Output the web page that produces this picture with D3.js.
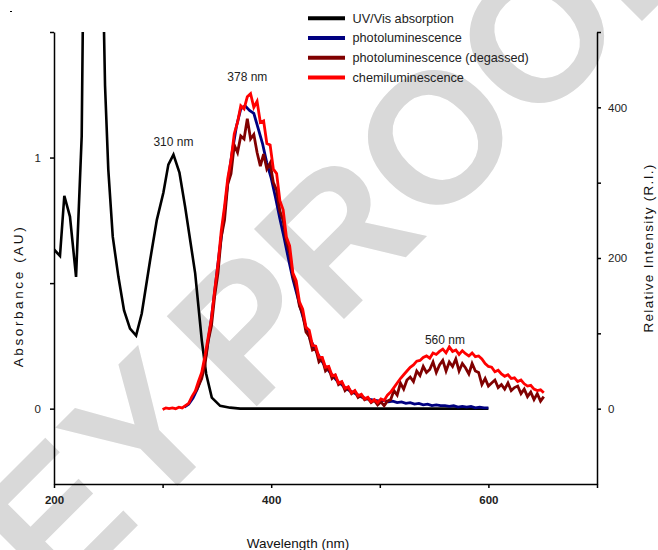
<!DOCTYPE html>
<html>
<head>
<meta charset="utf-8">
<script src="https://cdn.jsdelivr.net/npm/d3@7"></script>
<style>
  html, body { margin: 0; padding: 0; background: #fff; }
  svg { display: block; font-family: "Liberation Sans", Arial, sans-serif; }
</style>
</head>
<body>
<svg id="chart" width="658" height="550"></svg>
<script>
// ---------- DATA ----------
const seriesNames = ["UV/Vis absorption", "photoluminescence", "photoluminescence (degassed)", "chemiluminescence"];
const seriesColors = ["#000000", "#000080", "#800000", "#ff0000"];

const xTicks = [200, 300, 400, 500, 600, 700];
const xTickLabels = [200, 400, 600];
const absTicks = [0, 0.5, 1, 1.5];
const absTickLabels = [0, 1];
const riTicks = [0, 100, 200, 300, 400, 500];
const riTickLabels = [0, 200, 400];

// UV/Vis absorption (left axis, AU)
const uvWl  = [200, 205.5, 209.5, 214.7, 220.3, 225.5, 230, 240, 247, 250, 254.1, 259.3, 264.5, 270, 275.6, 280.8, 288.5, 294.7, 300.7, 305.3, 310, 315.5, 320.7, 330, 336.1, 340.1, 345.3, 353, 362.2, 371.4, 400, 450, 500, 550, 600];
const uvAbs = [0.634, 0.608, 0.848, 0.765, 0.525, 1.085, 3.0, 2.87, 1.286, 0.952, 0.685, 0.525, 0.391, 0.319, 0.291, 0.379, 0.591, 0.752, 0.860, 0.972, 1.012, 0.94, 0.805, 0.539, 0.271, 0.139, 0.044, 0.011, 0.004, 0, 0, 0, 0, 0, 0];

// photoluminescence (right axis, R.I.)
const plWl = [320, 324, 328, 332, 336, 340, 344, 348, 352, 356, 360, 364, 368, 372, 376, 380, 384, 388, 392, 396, 400, 404, 408, 412, 416, 420, 424, 428, 432, 436, 440, 444, 448, 452, 456, 460, 464, 468, 472, 476, 480, 484, 488, 492, 496, 500, 504, 508, 512, 516, 520, 524, 528, 532, 536, 540, 544, 548, 552, 556, 560, 564, 568, 572, 576, 580, 584, 588, 592, 596, 600];
const plRI = [2, 6, 14, 26, 44, 72, 110, 156, 205, 250, 300, 340, 375, 398, 402, 396, 392, 372, 352, 326, 306, 280, 252, 226, 198, 172, 150, 128, 108, 92, 80, 70, 60, 52, 45, 38, 33, 28, 24, 21, 18, 15, 13, 12, 11, 10, 11, 9, 10, 8, 9, 7, 8, 6, 7, 5, 6, 4, 5, 4, 4, 3, 4, 2, 3, 2, 3, 1, 2, 1, 1];

// photoluminescence, degassed (right axis, R.I.)
const plDegWl = [330, 333, 336, 339, 342, 345, 348, 351, 354, 357, 360, 363, 366, 369, 372, 375, 378, 381, 384, 387, 390, 393, 396, 399, 402, 405, 408, 411, 414, 417, 420, 423, 426, 429, 432, 435, 438, 441, 444, 447, 450, 453, 456, 459, 462, 465, 468, 471, 474, 477, 480, 483, 486, 489, 492, 495, 498, 501, 504, 507, 510, 513, 516, 519, 522, 525, 528, 531, 534, 537, 540, 543, 546, 549, 552, 555, 558, 561, 564, 567, 570, 573, 576, 579, 582, 585, 588, 591, 594, 597, 600, 603, 606, 609, 612, 615, 618, 621, 624, 627, 630, 633, 636, 639, 642, 645, 648, 651];
const plDegRI = [22, 30, 40, 58, 90, 110, 150, 180, 228, 250, 298, 312, 350, 340, 362, 358, 385, 358, 364, 340, 322, 338, 318, 326, 300, 290, 262, 250, 222, 206, 176, 162, 136, 126, 102, 96, 78, 80, 62, 66, 50, 54, 40, 44, 32, 35, 24, 28, 20, 23, 15, 18, 12, 14, 8, 11, 5, 9,
  4, 10, 12, 24, 18, 34, 26, 38, 42, 36, 50, 44, 56, 48, 52, 62, 48, 58, 64, 50, 62, 56, 66, 50, 60, 54, 46, 60, 50, 48, 32, 40, 30, 34, 38, 28, 32, 26, 34, 24, 28, 30, 20, 26, 16, 22, 12, 20, 10, 16];

// chemiluminescence (right axis, R.I.)
const clWl = [300, 303, 306, 309, 312, 315, 318, 321, 324, 327, 330, 333, 336, 339, 342, 345, 348, 351, 354, 357, 360, 363, 366, 369, 372, 375, 378, 381, 384, 387, 390, 393, 396, 399, 402, 405, 408, 411, 414, 417, 420, 423, 426, 429, 432, 435, 438, 441, 444, 447, 450, 453, 456, 459, 462, 465, 468, 471, 474, 477, 480, 483, 486, 489, 492, 495, 498, 501, 504, 507, 510, 513, 516, 519, 522, 525, 528, 531, 534, 537, 540, 543, 546, 549, 552, 555, 558, 561, 564, 567, 570, 573, 576, 579, 582, 585, 588, 591, 594, 597, 600, 603, 606, 609, 612, 615, 618, 621, 624, 627, 630, 633, 636, 639, 642, 645, 648, 651];
const clRI = [-1, 1, 0, 1, 0, 2, 1, 4, 7, 16, 23, 36, 48, 70, 95, 120, 158, 192, 236, 268, 306, 330, 365, 380, 402, 398, 414, 418, 400, 408, 380, 382, 352, 350, 318, 312, 276, 264, 228, 216, 180, 170, 142, 132, 108, 104, 84, 83, 68, 68, 55, 56, 44, 45, 34, 36, 27, 29, 21, 24, 17, 19, 13, 15, 9, 12, 8,
  13, 11, 18, 22, 28, 34, 40, 45, 50, 55, 58, 63, 64, 68, 70, 67, 74, 72, 76, 79, 74, 82, 76, 78, 72, 77, 73, 70, 74, 69, 70, 66, 60, 56, 55, 49, 51, 46, 43, 45, 40, 41, 36, 38, 33, 30, 31, 26, 24, 25, 21];

// peak labels: wavelength and the value at which the label's baseline sits
const annotations = [
  { wl: 310, abs: 1.046, label: "310 nm" },
  { wl: 378, ri: 435, label: "378 nm" },
  { wl: 560, ri: 86, label: "560 nm" }
];

// ---------- LAYOUT ----------
const W = 658, H = 550;
const m = { left: 54, right: 61, top: 32, bottom: 66 };
const svg = d3.select("#chart");

const x = d3.scaleLinear().domain([200, 700]).range([m.left, W - m.right]);
const yL = d3.scaleLinear().domain([-0.3, 1.5]).range([H - m.bottom, m.top]);
const yR = d3.scaleLinear().domain([-100, 500]).range([H - m.bottom, m.top]);

// ---------- WATERMARK ----------
const wm = svg.append("g")
  .attr("transform", "translate(248,415) rotate(-45)")
  .attr("fill", "#d9d9d9")
  .style("font-family", "'Liberation Sans', Arial, sans-serif")
  .style("font-weight", "bold")
  .style("font-size", "185px");
wm.append("text").attr("x", -25).attr("text-anchor", "end").text("WILEY");
wm.append("text").attr("x", 0).attr("text-anchor", "start").text("PROOF");

// tiny mark top-left
svg.append("line").attr("x1", 10).attr("x2", 12).attr("y1", 11.5).attr("y2", 11.5)
  .attr("stroke", "#000").attr("stroke-width", 1);

// ---------- CLIP ----------
svg.append("defs").append("clipPath").attr("id", "plotclip")
  .append("rect").attr("x", m.left).attr("y", m.top)
  .attr("width", W - m.left - m.right).attr("height", H - m.top - m.bottom);

const plot = svg.append("g").attr("clip-path", "url(#plotclip)");

const zip = (a, b) => a.map((v, i) => [v, b[i]]);
const lineL = d3.line().x(d => x(d[0])).y(d => yL(d[1]));
const lineR = d3.line().x(d => x(d[0])).y(d => yR(d[1]));

plot.append("path").datum(zip(uvWl, uvAbs)).attr("d", lineL)
  .attr("fill", "none").attr("stroke", seriesColors[0]).attr("stroke-width", 2.6);
plot.append("path").datum(zip(plWl, plRI)).attr("d", lineR)
  .attr("fill", "none").attr("stroke", seriesColors[1]).attr("stroke-width", 2.8);
plot.append("path").datum(zip(plDegWl, plDegRI)).attr("d", lineR)
  .attr("fill", "none").attr("stroke", seriesColors[2]).attr("stroke-width", 2.8);
plot.append("path").datum(zip(clWl, clRI)).attr("d", lineR)
  .attr("fill", "none").attr("stroke", seriesColors[3]).attr("stroke-width", 2.8);

// ---------- AXES ----------
function styleAxis(g, labelSize, bold) {
  g.select(".domain").attr("stroke", "#000").attr("stroke-width", 1.5);
  g.selectAll(".tick line").attr("stroke", "#000").attr("stroke-width", 1.5);
  g.selectAll(".tick text").attr("fill", "#222")
    .style("font-size", labelSize + "px").style("font-weight", bold ? "bold" : "normal")
    .style("font-family", "'Liberation Sans', Arial, sans-serif");
}

const xAxis = d3.axisBottom(x).tickValues(xTicks)
  .tickFormat(d => xTickLabels.includes(d) ? d : "")
  .tickSize(4).tickSizeOuter(0).tickPadding(8);
svg.append("g").attr("transform", `translate(0,${H - m.bottom})`).call(xAxis)
  .call(g => styleAxis(g, 11.5, true));

const yLAxis = d3.axisLeft(yL).tickValues(absTicks)
  .tickFormat(d => absTickLabels.includes(d) ? d : "")
  .tickSize(4).tickSizeOuter(0).tickPadding(9);
svg.append("g").attr("transform", `translate(${m.left},0)`).call(yLAxis)
  .call(g => styleAxis(g, 11.5, false));

const yRAxis = d3.axisRight(yR).tickValues(riTicks)
  .tickFormat(d => riTickLabels.includes(d) ? d : "")
  .tickSize(4).tickSizeOuter(0).tickPadding(7);
svg.append("g").attr("transform", `translate(${W - m.right},0)`).call(yRAxis)
  .call(g => styleAxis(g, 11.5, false));

// axis titles
svg.append("text").attr("x", 298).attr("y", 548).attr("text-anchor", "middle")
  .style("font-size", "13.5px").attr("fill", "#111").text("Wavelength (nm)");
svg.append("text").attr("transform", "translate(23,296) rotate(-90)").attr("text-anchor", "middle")
  .style("font-size", "13.5px").style("letter-spacing", "2.6px").attr("fill", "#111").text("Absorbance (AU)");
svg.append("text").attr("transform", "translate(653,248) rotate(-90)").attr("text-anchor", "middle")
  .style("font-size", "13.5px").style("letter-spacing", "1.3px").attr("fill", "#111").text("Relative Intensity (R.I.)");

// ---------- ANNOTATIONS ----------
annotations.forEach(a => {
  const px = x(a.wl);
  const py = a.abs !== undefined ? yL(a.abs) : yR(a.ri);
  svg.append("text").attr("x", px).attr("y", py).attr("text-anchor", "middle")
    .style("font-size", "12px").attr("fill", "#222").text(a.label);
});

// ---------- LEGEND ----------
const leg = svg.append("g");
seriesNames.forEach((name, i) => {
  const yy = 18.3 + i * 19.7;
  leg.append("line").attr("x1", 308).attr("x2", 345).attr("y1", yy).attr("y2", yy)
    .attr("stroke", seriesColors[i]).attr("stroke-width", 4);
  leg.append("text").attr("x", 352.5).attr("y", yy + 4.4)
    .style("font-size", "12.7px").attr("fill", "#222").text(name);
});
</script>
</body>
</html>
